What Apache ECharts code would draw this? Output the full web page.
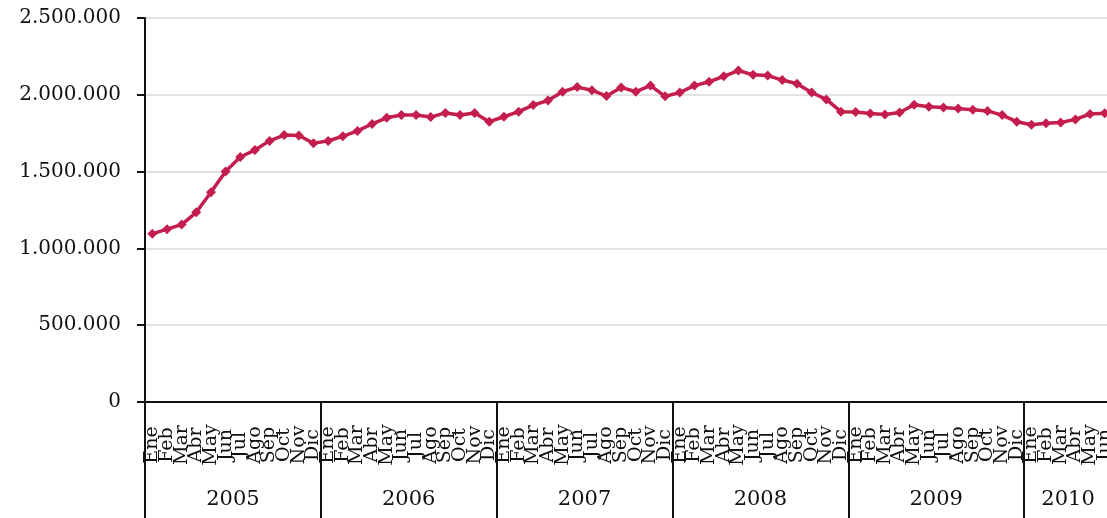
<!DOCTYPE html>
<html>
<head>
<meta charset="utf-8">
<script src="https://cdn.jsdelivr.net/npm/echarts@6/dist/echarts.min.js"></script>
<style>
  html, body { margin: 0; padding: 0; overflow: hidden; background: #fff; }
  #chart { width: 1120px; height: 518px; }
</style>
</head>
<body>
<div id="chart"></div>
<script>
// meses por año
const monthNames = ['Ene', 'Feb', 'Mar', 'Abr', 'May', 'Jun', 'Jul', 'Ago', 'Sep', 'Oct', 'Nov', 'Dic']
const years = ['2005', '2006', '2007', '2008', '2009', '2010']
const monthsPerYear = [12, 12, 12, 12, 12, 6]

// valores mensuales
const values2005 = [1095000, 1125000, 1155000, 1235000, 1365000, 1500000, 1595000, 1640000, 1700000, 1738000, 1735000, 1685000]
const values2006 = [1700000, 1730000, 1765000, 1810000, 1850000, 1868000, 1868000, 1855000, 1882000, 1868000, 1882000, 1825000]
const values2007 = [1857000, 1890000, 1933000, 1963000, 2020000, 2050000, 2030000, 1992000, 2048000, 2020000, 2060000, 1990000]
const values2008 = [2015000, 2060000, 2085000, 2120000, 2158000, 2130000, 2125000, 2096000, 2072000, 2015000, 1970000, 1890000]
const values2009 = [1888000, 1878000, 1872000, 1885000, 1935000, 1922000, 1918000, 1910000, 1902000, 1895000, 1868000, 1825000]
const values2010 = [1805000, 1815000, 1820000, 1840000, 1875000, 1880000]

const yTicks = [0, 500000, 1000000, 1500000, 2000000, 2500000]

const categories = []
years.forEach((y, i) => {
  for (let m = 0; m < monthsPerYear[i]; m++) categories.push(monthNames[m])
})
const values = [].concat(values2005, values2006, values2007, values2008, values2009, values2010)

// posición (en meses) del centro de cada año
const yearCenters = {}
let acc = 0
years.forEach((y, i) => {
  yearCenters[acc + monthsPerYear[i] / 2] = y
  acc += monthsPerYear[i]
})

const fmt = v => String(v).replace(/\B(?=(\d{3})+(?!\d))/g, '.')

const serif = 'DejaVu Serif'

const myChart = echarts.init(document.getElementById('chart'))
myChart.setOption({
  animation: false,
  grid: { left: 145, right: 8, top: 18, bottom: 116 },
  xAxis: [
    {
      type: 'category',
      data: categories,
      boundaryGap: true,
      axisLine: { show: true, lineStyle: { color: '#111', width: 2 } },
      axisTick: {
        show: true,
        length: 116,
        interval: i => i % 12 === 0,
        lineStyle: { color: '#111', width: 2 }
      },
      axisLabel: {
        interval: 0,
        rotate: 90,
        align: 'center',
        verticalAlign: 'middle',
        margin: 43,
        fontFamily: serif,
        fontSize: 19,
        color: '#111'
      }
    },
    {
      type: 'value',
      position: 'bottom',
      min: 0,
      max: acc,
      interval: 3,
      axisLine: { show: false },
      axisTick: { show: false },
      splitLine: { show: false },
      axisLabel: {
        margin: 87,
        fontFamily: serif,
        fontSize: 21,
        color: '#111',
        formatter: v => yearCenters[v] || ''
      }
    }
  ],
  yAxis: {
    type: 'value',
    min: yTicks[0],
    max: yTicks[yTicks.length - 1],
    interval: 500000,
    axisLine: { show: true, lineStyle: { color: '#111', width: 2 } },
    axisTick: { show: true, length: 8, lineStyle: { color: '#111', width: 2 } },
    axisLabel: {
      margin: 24,
      fontFamily: serif,
      fontSize: 20,
      color: '#111',
      formatter: fmt
    },
    splitLine: { lineStyle: { color: '#e2e2e2', width: 2 } }
  },
  series: [
    {
      type: 'line',
      data: values,
      symbol: 'diamond',
      symbolSize: 10,
      lineStyle: { color: '#c41e4e', width: 3.5 },
      itemStyle: { color: '#c41e4e' }
    }
  ]
})
</script>
</body>
</html>
